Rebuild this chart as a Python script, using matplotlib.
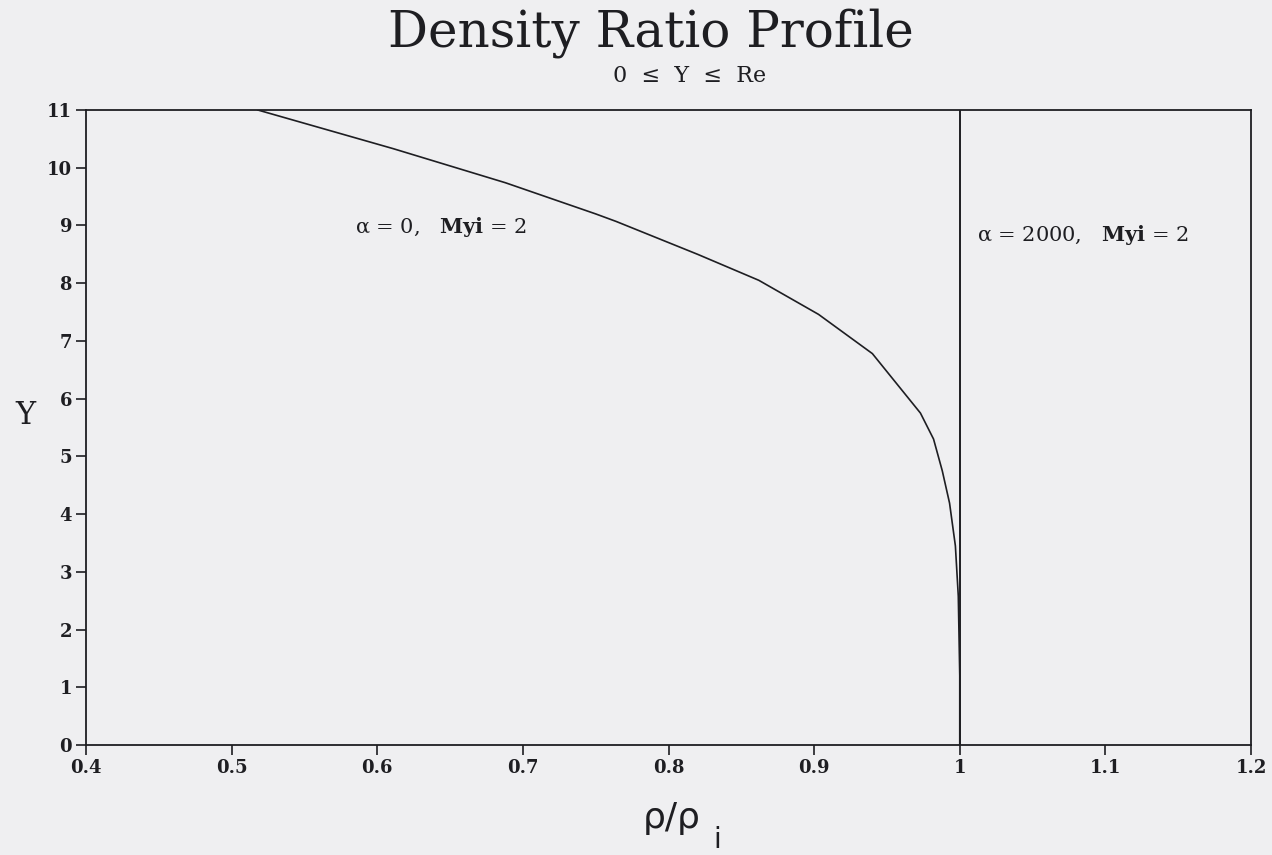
import matplotlib
matplotlib.use("Agg")
import matplotlib.pyplot as plt

# density ratio profile, alpha = 0, Myi = 2
rho_a0 = [0.518, 0.611, 0.688, 0.750, 0.764, 0.820, 0.862, 0.903, 0.940,
          0.973, 0.982, 0.988, 0.993, 0.997, 0.999, 1.000, 1.000]
y_a0 = [11.0, 10.33, 9.74, 9.20, 9.07, 8.50, 8.05, 7.46, 6.78,
        5.75, 5.30, 4.75, 4.19, 3.45, 2.58, 1.2, 0.0]

# alpha = 2000, Myi = 2 stays at the inlet density
rho_a2000 = [1.0, 1.0]
y_a2000 = [0.0, 11.0]

x_ticks = [0.4, 0.5, 0.6, 0.7, 0.8, 0.9, 1.0, 1.1, 1.2]
x_tick_labels = ['0.4', '0.5', '0.6', '0.7', '0.8', '0.9', '1', '1.1', '1.2']
y_ticks = list(range(0, 12))

bg = '#efeff1'
ink = '#1e1e22'
serif = 'DejaVu Serif'

plt.rcParams['mathtext.fontset'] = 'dejavuserif'

fig = plt.figure(figsize=(12.72, 8.55), dpi=100, facecolor=bg)
ax = fig.add_axes([86 / 1272, 1 - 745 / 855, (1251 - 86) / 1272, (745 - 110) / 855])
ax.set_facecolor(bg)

ax.plot(rho_a0, y_a0, color=ink, lw=1.2)
ax.plot(rho_a2000, y_a2000, color=ink, lw=1.4)

ax.set_xlim(0.4, 1.2)
ax.set_ylim(0, 11)
for s in ax.spines.values():
    s.set_color(ink)
    s.set_linewidth(1.3)

ax.set_xticks(x_ticks)
ax.set_xticklabels(x_tick_labels)
ax.set_yticks(y_ticks)
ax.tick_params(direction='out', length=7, width=1.2, color=ink, pad=3,
               labelsize=13, labelcolor=ink)
for lab in ax.get_xticklabels() + ax.get_yticklabels():
    lab.set_fontfamily(serif)
    lab.set_fontweight('bold')

# case labels
ax.text(0.585, 8.98, r'α = 0,   $\mathbf{Myi}$ = 2', fontsize=15,
        family=serif, color=ink, va='center', ha='left')
ax.text(1.012, 8.83, r'α = 2000,   $\mathbf{Myi}$ = 2', fontsize=15,
        family=serif, color=ink, va='center', ha='left')

# titles
fig.text(651 / 1272, 1 - 33 / 855, 'Density Ratio Profile', fontsize=36,
         family=serif, color=ink, ha='center', va='center')
fig.text(690 / 1272, 1 - 76 / 855, '0  ≤  Y  ≤  Re', fontsize=16,
         family=serif, color=ink, ha='center', va='center')

# axis labels
fig.text(25 / 1272, 1 - 415 / 855, 'Y', fontsize=22,
         family=serif, color=ink, ha='center', va='center')
fig.text(672 / 1272, 1 - 818 / 855, 'ρ/ρ', fontsize=26,
         family='DejaVu Sans', color=ink, ha='center', va='center')
fig.text(717 / 1272, 1 - 840 / 855, 'i', fontsize=20,
         family='DejaVu Sans', color=ink, ha='center', va='center')

fig.savefig('out.png', dpi=100, facecolor=bg)
